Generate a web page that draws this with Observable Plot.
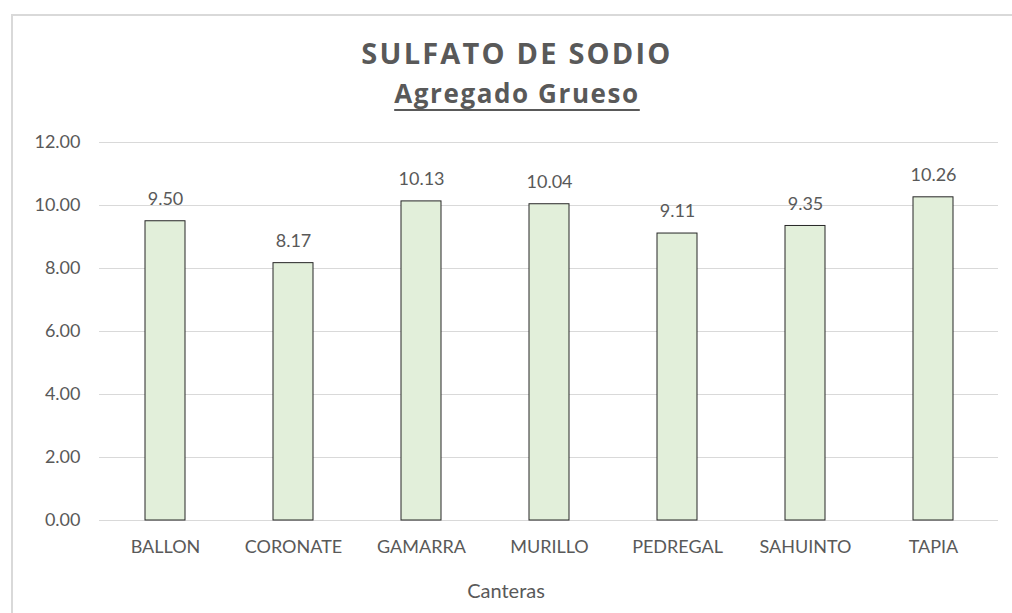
<!DOCTYPE html>
<html>
<head>
<meta charset="utf-8">
<script src="https://cdn.jsdelivr.net/npm/d3@7"></script>
<script src="https://cdn.jsdelivr.net/npm/@observablehq/plot@0.6"></script>
<style>
  html, body { margin: 0; padding: 0; background: #fff; }
  body { width: 1012px; height: 613px; position: relative; overflow: hidden; font-family: Lato, "Open Sans", sans-serif; }
  #frame { position: absolute; left: 11px; top: 14px; width: 1100px; height: 700px; border: 2px solid #d9d9d9; box-sizing: border-box; }
  #title { position: absolute; left: 0; width: 1034px; top: 35px; text-align: center; font-family: "Open Sans", sans-serif; font-weight: bold; font-size: 29px; letter-spacing: 2.2px; color: #595959; line-height: 36px; }
  #subtitle { position: absolute; left: 0; width: 1034px; top: 77px; text-align: center; font-family: "Open Sans", sans-serif; font-weight: bold; font-size: 26px; letter-spacing: 1.6px; color: #595959; line-height: 32px; text-decoration: underline; text-decoration-thickness: 2px; text-underline-offset: 6px; }
  #chart { position: absolute; left: 0; top: 120px; }
</style>
</head>
<body>
<div id="frame"></div>
<div id="title">SULFATO DE SODIO</div>
<div id="subtitle">Agregado Grueso</div>
<div id="chart"></div>
<script>
const canteras = ["BALLON", "CORONATE", "GAMARRA", "MURILLO", "PEDREGAL", "SAHUINTO", "TAPIA"];
const valores = [9.50, 8.17, 10.13, 10.04, 9.11, 9.35, 10.26];
const yTicks = [0, 2, 4, 6, 8, 10, 12];
const xTitle = "Canteras";

const data = canteras.map((c, i) => ({cantera: c, valor: valores[i]}));

const plot = Plot.plot({
  width: 1012,
  height: 493,
  marginLeft: 99,
  marginRight: 14,
  marginTop: 22,
  marginBottom: 93,
  style: {fontFamily: "Lato, 'Open Sans', sans-serif", fontSize: "18px", color: "#595959", background: "transparent"},
  x: {domain: canteras, paddingInner: 0.69, paddingOuter: 0.345, label: null},
  y: {domain: [0, 12], label: null},
  marks: [
    Plot.gridY(yTicks, {stroke: "#d9d9d9", strokeOpacity: 1, strokeWidth: 1}),
    Plot.barY(data, {x: "cantera", y: "valor", fill: "#e2efda", stroke: "#262626", strokeWidth: 1}),
    Plot.text(data, {x: "cantera", y: "valor", text: d => d.valor.toFixed(2), dy: -22, fontSize: 18, fill: "#595959"}),
    Plot.axisY({ticks: yTicks, tickFormat: d => d.toFixed(2), tickSize: 0, tickPadding: 19, label: null, fontSize: 18, fill: "#595959"}),
    Plot.axisX({tickSize: 0, tickPadding: 20, label: null, fontSize: 18, fill: "#595959"}),
    Plot.text([xTitle], {frameAnchor: "bottom", dx: -43, dy: 77, text: d => d, fontSize: 20, fill: "#595959"})
  ]
});
document.getElementById("chart").appendChild(plot);
</script>
</body>
</html>
